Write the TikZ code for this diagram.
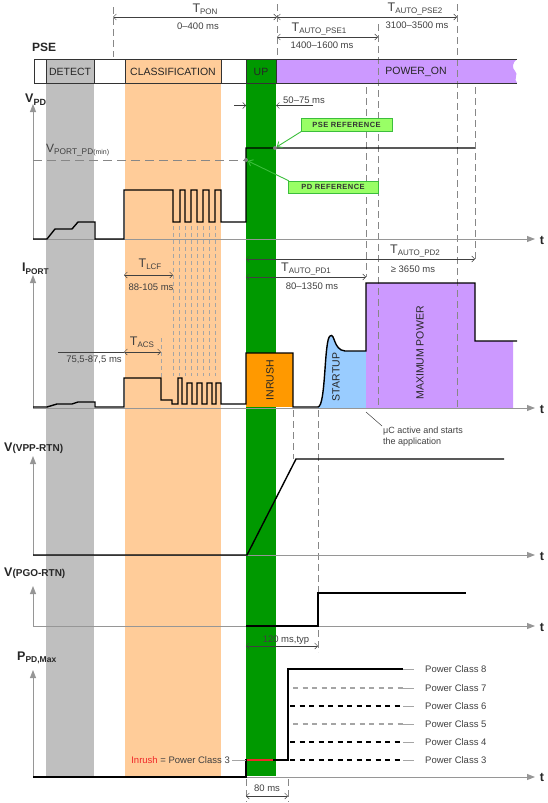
\documentclass[tikz,border=0pt]{standalone}
\usepackage{fontspec}
\setmainfont{Liberation Sans}
\usetikzlibrary{arrows.meta,calc}
\definecolor{bandgrey}{RGB}{191,191,191}
\definecolor{bandorange}{RGB}{255,204,153}
\definecolor{upgreen}{RGB}{0,153,0}
\definecolor{powpurple}{RGB}{204,153,255}
\definecolor{inrushor}{RGB}{255,153,0}
\definecolor{startblue}{RGB}{153,204,255}
\definecolor{refgreen}{RGB}{153,255,102}
\definecolor{refborder}{RGB}{60,190,60}
\definecolor{txtgrey}{RGB}{64,64,64}
\definecolor{axisgrey}{RGB}{150,150,150}
\definecolor{dashgrey}{RGB}{135,135,135}
\definecolor{lightline}{RGB}{165,165,165}
\definecolor{inrred}{RGB}{240,40,40}
\newcommand{\Tl}[1]{{\fontsize{12.5}{13}\selectfont T}\raisebox{-0.4ex}{\fontsize{8}{9}\selectfont #1}}
\tikzset{
  txt/.style={inner sep=0pt, text=txtgrey, font=\fontsize{9.5}{11}\selectfont},
  barlbl/.style={inner sep=0pt, text=black!85, font=\fontsize{10.5}{12}\selectfont},
  vlbl/.style={inner sep=0pt, text=black!85, font=\fontsize{10.5}{12}\selectfont, rotate=90},
  axlbl/.style={inner sep=0pt, anchor=west, text=black!85, font=\bfseries},
  tlbl/.style={inner sep=0pt, text=black!85, font=\bfseries\fontsize{12.5}{13}\selectfont},
  sig/.style={draw=black, line width=1.4pt, line join=miter},
  axisline/.style={draw=axisgrey, line width=0.9pt, -{Triangle[length=8pt,width=6pt]}},
  vdash/.style={draw=dashgrey, line width=0.8pt, dash pattern=on 7pt off 4pt},
  sdash/.style={draw=lightline, line width=0.6pt, dash pattern=on 4pt off 3pt},
  dimarr/.style={draw=txtgrey, line width=0.5pt, {Straight Barb[length=3pt,width=6pt]}-{Straight Barb[length=3pt,width=6pt]}},
  onearr/.style={draw=txtgrey, line width=0.5pt, -{Straight Barb[length=3pt,width=6pt]}},
  refbox/.style={draw=refborder, fill=refgreen, inner sep=0pt, text=black!80, font=\bfseries\fontsize{7.5}{8}\selectfont\addfontfeatures{LetterSpace=6}},
  refarr/.style={draw=refborder, line width=0.9pt, -{Straight Barb[length=4pt,width=7pt]}},
  dotnode/.style={circle, fill=gray, inner sep=0pt, minimum size=4pt},
  blackdash/.style={draw=black, line width=1.3pt, dash pattern=on 5pt off 4.5pt},
  greydash/.style={draw=lightline, line width=1.1pt, dash pattern=on 5pt off 4.5pt},
}
\begin{document}
\begin{tikzpicture}[x=1pt,y=-1pt]
\useasboundingbox (0,0) rectangle (548,803);
% ---------- bands
\fill[bandgrey] (46,59) rectangle (94,776);
\fill[bandorange] (125,59) rectangle (221,776);
\fill[upgreen] (246,59) rectangle (276,776);
% ---------- power-on bar fill
\fill[powpurple] (276,59) -- (517,59) .. controls (512,63) and (512,68) .. (515,71) .. controls (519,74) and (513,79) .. (517,83) -- (276,83) -- cycle;
% ---------- I_PORT fills
\fill[inrushor] (246,353) rectangle (293,407);
\fill[startblue] (318,408) -- (318,407) .. controls (326,406) and (324,340) .. (330,336) .. controls (335,332) and (333,350) .. (345,351) -- (366,351) -- (366,408) -- cycle;
\fill[powpurple] (366,408) -- (366,283) -- (475,283) -- (475,341) -- (513,341) -- (513,408) -- cycle;
% ---------- dashed guides
\draw[vdash] (113,7) -- (113,57);
\draw[vdash] (277,4) -- (277,59);
\draw[vdash] (378,24) -- (378,407);
\draw[vdash] (457,4) -- (457,407);
\draw[vdash] (366,87) -- (366,277);
\draw[vdash] (475,87) -- (475,259);
\draw[vdash] (293,410) -- (293,459);
\draw[vdash] (318,410) -- (318,652);
\foreach \x in {173,179,185,191,197,203,209,215} \draw[sdash] (\x,226) -- (\x,376);
\draw[sdash] (161,338) -- (161,377);
\draw[vdash] (246,779) -- (246,802);
\draw[vdash] (288,779) -- (288,802);
% ---------- PSE bar outline and labels
\node[axlbl, font=\bfseries\fontsize{12}{13}\selectfont] (pse) at (32,47) {PSE};
\draw[line width=0.8pt, black!80] (34,59) rectangle (276,83);
\foreach \x in {46,94,125,221,246} \draw[line width=0.8pt, black!80] (\x,59) -- (\x,83);
\draw[line width=0.8pt, black!80] (276,59) -- (517,59) (276,83) -- (517,83);
\node[barlbl] (detect) at (70,71.5) {DETECT};
\node[barlbl] (classif) at (173,71.5) {CLASSIFICATION};
\node[barlbl] (up) at (261,71.5) {UP};
\node[barlbl] (poweron) at (416,71.5) {POWER\_ON};
% ---------- top dimensions
\draw[dimarr] (113,17) -- (277,17);
\node[txt] (tpon) at (205,9.5) {\Tl{PON}};
\node[txt] (tponv) at (198,26) {0–400 ms};
\draw[dimarr] (277,17) -- (457,17);
\node[txt] (tpse2) at (415,8.5) {\Tl{AUTO\_PSE2}};
\node[txt] (tpse2v) at (417,25) {3100–3500 ms};
\draw[dimarr] (277,37) -- (378,37);
\node[txt] (tpse1) at (319,28.5) {\Tl{AUTO\_PSE1}};
\node[txt] (tpse1v) at (322,45) {1400–1600 ms};
% ---------- V_PD
\draw[axisline] (33,239) -- (33,104);
\draw[axisline] (33,239) -- (535,239);
\node[tlbl] (t1) at (542,240) {t};
\node[axlbl] (vpd) at (25,100) {{\fontsize{12.5}{13}\selectfont V}\raisebox{-0.5ex}{\fontsize{9}{10}\selectfont PD}};
\node[txt, anchor=west] (vportmin) at (46,150) {{\fontsize{12}{12}\selectfont V}\raisebox{-0.4ex}{\fontsize{8.3}{9}\selectfont PORT\_PD{\fontsize{7}{8}\selectfont(min)}}};
\draw[draw=dashgrey, line width=0.9pt, dash pattern=on 9pt off 5pt] (33,160) -- (246,160);
\draw[sig] (33,239) -- (47,239) -- (55,229) -- (72,229) -- (78,222) -- (95,222) -- (95,239) -- (124,239) -- (124,190) -- (173,190) -- (173,222) -- (180,222) -- (180,190) -- (185,190) -- (185,222) -- (191,222) -- (191,190) -- (197,190) -- (197,222) -- (203,222) -- (203,190) -- (209,190) -- (209,222) -- (215,222) -- (215,190) -- (221,190) -- (221,222) -- (246,222) -- (246,148) -- (475,148);
\node[refbox, minimum width=91pt, minimum height=13pt] (pseref) at (346.5,124.5) {PSE REFERENCE};
\node[refbox, minimum width=90pt, minimum height=12pt] (pdref) at (333,187) {PD REFERENCE};
\coordinate (psedot) at (275,148);
\coordinate (pddot) at (246,160);
\draw[refarr, shorten >=2pt] ($(pseref.south west)+(1,0)$) -- (psedot);
\draw[refarr, shorten >=2pt] ($(pdref.north west)+(1,0)$) -- (pddot);
\node[dotnode] (psedotn) at (psedot) {};
\node[dotnode] (pddotn) at (pddot) {};
\draw[onearr] (234,105.5) -- (246,105.5);
\draw[onearr] (313,105.5) -- (276,105.5);
\node[txt, anchor=west] (t5075) at (283,100) {50–75 ms};
% ---------- I_PORT
\draw[axisline] (33,408) -- (33,275);
\draw[axisline] (33,408) -- (535,408);
\node[tlbl] (t2) at (542,409) {t};
\node[axlbl] (iport) at (22,269) {{\fontsize{12.5}{13}\selectfont I}\raisebox{-0.5ex}{\fontsize{8.3}{9}\selectfont PORT}};
\draw[dimarr] (124,275) -- (173,275);
\node[txt] (tlcf) at (150,264.5) {\Tl{LCF}};
\node[txt] (tlcfv) at (151,287) {88-105 ms};
\draw[draw=txtgrey, line width=0.5pt] (58,352) -- (124,352);
\draw[dimarr] (124,352) -- (161,352);
\node[txt] (tacs) at (142,342.5) {\Tl{ACS}};
\node[txt] (tacsv) at (94,360) {75,5-87,5 ms};
\draw[dimarr] (246,259) -- (475,259);
\node[txt] (tpd2) at (415,250.5) {\Tl{AUTO\_PD2}};
\node[txt] (tpd2v) at (413,269) {≥ 3650 ms};
\draw[dimarr] (246,277) -- (366,277);
\node[txt] (tpd1) at (306,268.5) {\Tl{AUTO\_PD1}};
\node[txt] (tpd1v) at (312,286) {80–1350 ms};
\draw[sig] (33,407) -- (47,407) -- (57,404) -- (72,404) -- (78,402) -- (95,402) -- (95,407) -- (124,407) -- (124,378) -- (161,378) -- (161,400) -- (172,400) -- (172,404) -- (178,404) -- (178,378) -- (182,378) -- (182,404) -- (187,404) -- (187,383) -- (192,383) -- (192,404) -- (197,404) -- (197,383) -- (202,383) -- (202,404) -- (207,404) -- (207,383) -- (212,383) -- (212,404) -- (216,404) -- (216,383) -- (221,383) -- (221,404) -- (246,404) -- (246,353) -- (293,353) -- (293,407) -- (318,407) .. controls (326,406) and (324,340) .. (330,336) .. controls (335,332) and (333,350) .. (345,351) -- (366,351) -- (366,283) -- (475,283) -- (475,341) -- (517,341);
\node[vlbl] (inrushl) at (270,380) {INRUSH};
\node[vlbl] (startupl) at (336,377) {STARTUP};
\node[vlbl] (maxpl) at (420,353) {MAXIMUM POWER};
\coordinate (muctip) at (366,412);
\node[txt, anchor=north west, font=\fontsize{9}{10.5}\selectfont, align=left] (muc) at (383,427) {μC active and starts\\the application};
\draw[draw=txtgrey, line width=0.5pt] (muctip) -- (382,426);
% ---------- V(VPP-RTN)
\draw[axisline] (33,555) -- (33,456);
\draw[axisline] (33,555) -- (535,555);
\node[tlbl] (t3) at (542,556) {t};
\node[axlbl] (vpp) at (4,448) {{\fontsize{12.5}{13}\selectfont V}{\fontsize{10}{11}\selectfont (VPP-RTN)}};
\draw[sig] (33,555) -- (247,555) -- (296,459) -- (504,459);
% ---------- V(PGO-RTN)
\draw[axisline] (33,626) -- (33,586);
\draw[axisline] (33,626) -- (535,626);
\node[tlbl] (t4) at (542,627) {t};
\node[axlbl] (pgo) at (4,573) {{\fontsize{12.5}{13}\selectfont V}{\fontsize{10}{11}\selectfont (PGO-RTN)}};
\draw[sig] (246,626) -- (318,626) -- (318,593) -- (466,593);
\draw[dimarr] (246,646) -- (318,646);
\node[txt] (t120) at (286,640) {120 ms,typ};
% ---------- P_PD,Max
\draw[axisline] (33,777) -- (33,670);
\draw[axisline] (33,777) -- (535,777);
\node[tlbl] (t5) at (542,777) {t};
\node[axlbl] (ppd) at (17,658) {{\fontsize{12.5}{13}\selectfont P}\raisebox{-0.5ex}{\fontsize{8.5}{9}\selectfont PD,Max}};
\foreach \y in {706,742,760} \draw[blackdash] (290,\y) -- (403,\y);
\foreach \y in {688,724} \draw[greydash] (293,\y) -- (403,\y);
\foreach \y in {669,688,706,724,742,760} \draw[draw=lightline, line width=0.8pt] (403,\y) -- (414,\y);
\draw[sig] (33,777) -- (246,777) -- (246,760) -- (288,760) -- (288,669) -- (403,669);
\draw[draw=inrred, line width=1.6pt] (247,760) -- (273,760);
\node[txt, anchor=west] (pc8) at (425,669) {Power Class 8};
\node[txt, anchor=west] (pc7) at (425,688) {Power Class 7};
\node[txt, anchor=west] (pc6) at (425,706) {Power Class 6};
\node[txt, anchor=west] (pc5) at (425,724) {Power Class 5};
\node[txt, anchor=west] (pc4) at (425,742) {Power Class 4};
\node[txt, anchor=west] (pc3) at (425,760) {Power Class 3};
\node[txt, anchor=east] (inrl) at (230,760) {\textcolor{inrred}{Inrush} = Power Class 3};
\draw[draw=lightline, line width=0.8pt] (inrl.east) ++(2,0) -- (246,760);
\draw[dimarr] (246,796) -- (288,796);
\node[txt] (t80) at (267,788) {80 ms};
\end{tikzpicture}
\end{document}
